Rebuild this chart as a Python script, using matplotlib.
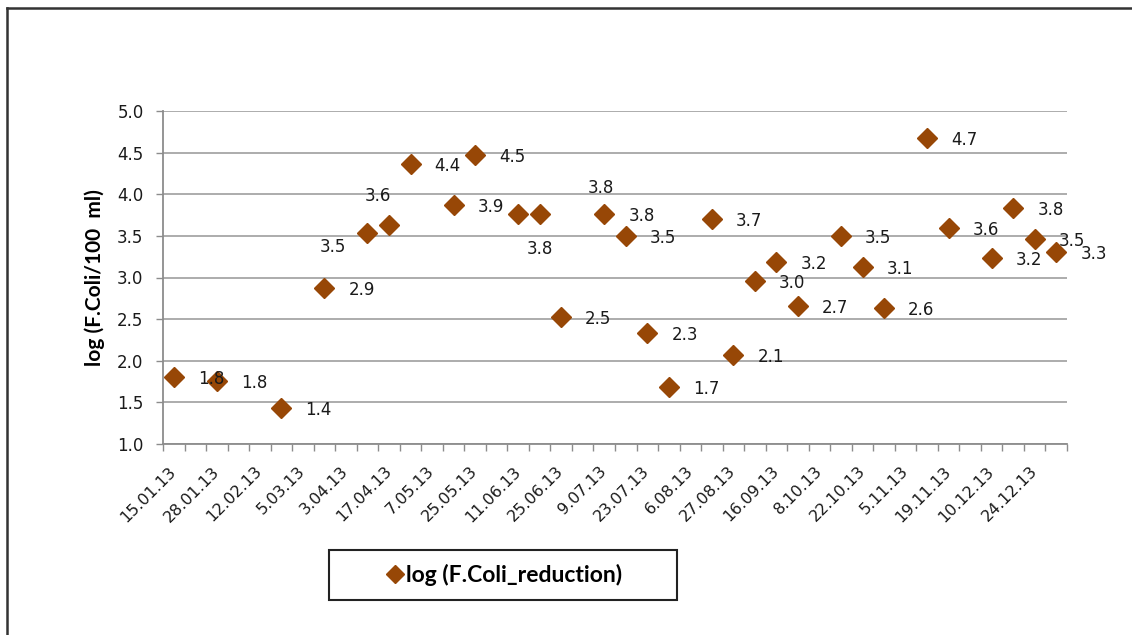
import matplotlib.pyplot as plt
from matplotlib.patches import Rectangle
from matplotlib.lines import Line2D
from matplotlib.ticker import MultipleLocator, FixedLocator

# sampling dates shown on the axis (every second category slot)
date_labels = ['15.01.13', '28.01.13', '12.02.13', '5.03.13', '3.04.13', '17.04.13',
               '7.05.13', '25.05.13', '11.06.13', '25.06.13', '9.07.13', '23.07.13',
               '6.08.13', '27.08.13', '16.09.13', '8.10.13', '22.10.13', '5.11.13',
               '19.11.13', '10.12.13', '24.12.13']
n_slots = 42

# category slot of each measurement and its value
sample_slots = [0, 2, 5, 7, 9, 10, 11, 13, 14, 16, 17, 18, 20, 21, 22, 23, 25, 26, 27, 28,
                29, 31, 32, 33, 35, 36, 38, 39, 40, 41]
log_reduction = [1.80, 1.76, 1.43, 2.87, 3.53, 3.63, 4.36, 3.87, 4.47, 3.76, 3.76, 2.53,
                 3.76, 3.50, 2.33, 1.68, 3.70, 2.07, 2.96, 3.19, 2.66, 3.50, 3.13, 2.63,
                 4.68, 3.59, 3.24, 3.83, 3.46, 3.31]

# labels that were dragged away from the default right-hand spot (pixel offsets)
moved_labels = {4: (-35, -14), 5: (-11, 29), 9: (83, 26), 10: (0, -35)}

W, H = 1132, 635
brown = '#974706'
grid_grey = '#a6a6a6'
txt = '#1a1a1a'

fig = plt.figure(figsize=(W / 100, H / 100), dpi=100)
ax = fig.add_axes([163 / W, 1 - 444 / H, (1067 - 163) / W, (444 - 111) / H])

ax.plot(sample_slots, log_reduction, linestyle='none', marker='D', markersize=10,
        color=brown, markeredgecolor=brown, clip_on=False, zorder=3)

for i, (x, y) in enumerate(zip(sample_slots, log_reduction)):
    if i in moved_labels:
        dx, dy = moved_labels[i]
        ha = 'center'
    else:
        dx, dy = 24, -2
        ha = 'left'
    ax.annotate(f'{y:.1f}', (x, y), xytext=(dx, dy), textcoords='offset pixels',
                ha=ha, va='center', fontsize=12, color=txt, zorder=4,
                annotation_clip=False)

ax.set_xlim(-0.5, n_slots - 0.5)
ax.set_ylim(1.0, 5.0)
ax.yaxis.set_major_locator(MultipleLocator(0.5))
ax.yaxis.set_major_formatter(plt.FuncFormatter(lambda v, p: f'{v:.1f}'))
ax.grid(axis='y', color=grid_grey, linewidth=1.3)
ax.set_axisbelow(True)

ax.xaxis.set_major_locator(FixedLocator(list(range(0, n_slots, 2))))
ax.set_xticklabels(date_labels)
ax.xaxis.set_minor_locator(FixedLocator([k - 0.5 for k in range(n_slots + 1)]))
ax.tick_params(axis='x', which='major', length=0, pad=18)
ax.tick_params(axis='x', which='minor', length=5, width=1, color='#8c8c8c', direction='out')
ax.tick_params(axis='y', length=5, width=1, color='#8c8c8c', pad=9, labelsize=12,
               labelcolor=txt)
for lab in ax.get_xticklabels():
    lab.set_rotation(45)
    lab.set_ha('right')
    lab.set_va('center')
    lab.set_rotation_mode('anchor')
    lab.set_fontsize(11.5)
    lab.set_color(txt)

for side in ['top', 'right']:
    ax.spines[side].set_visible(False)
for side in ['left', 'bottom']:
    ax.spines[side].set_color('#8c8c8c')
    ax.spines[side].set_linewidth(1.3)

ax.set_ylabel('log (F.Coli/100  ml)', family='Lato', fontweight='bold', fontsize=15,
              color='black', labelpad=9)

# legend box below the plot
fig.patches.append(Rectangle((329 / W, 1 - 600 / H), 348 / W, 50 / H,
                             transform=fig.transFigure, fill=False,
                             edgecolor='#222222', linewidth=1.5))
handle = Line2D([], [], linestyle='none', marker='D', markersize=9, color=brown)
fig.legend([handle], ['log (F.Coli_reduction)'], loc='center', frameon=False,
           bbox_to_anchor=(505 / W, 1 - 575 / H), handlelength=0.6, handletextpad=0.15,
           prop={'family': 'Lato', 'weight': 'bold', 'size': 16.5})

# outer chart border (top and left edges visible)
fig.add_artist(Line2D([7 / W, 7 / W], [0, 1 - 8 / H], transform=fig.transFigure,
                      color='#333333', linewidth=1.8))
fig.add_artist(Line2D([7 / W, 1], [1 - 8 / H, 1 - 8 / H], transform=fig.transFigure,
                      color='#333333', linewidth=1.8))

fig.savefig('out.png', dpi=100, facecolor='white')
